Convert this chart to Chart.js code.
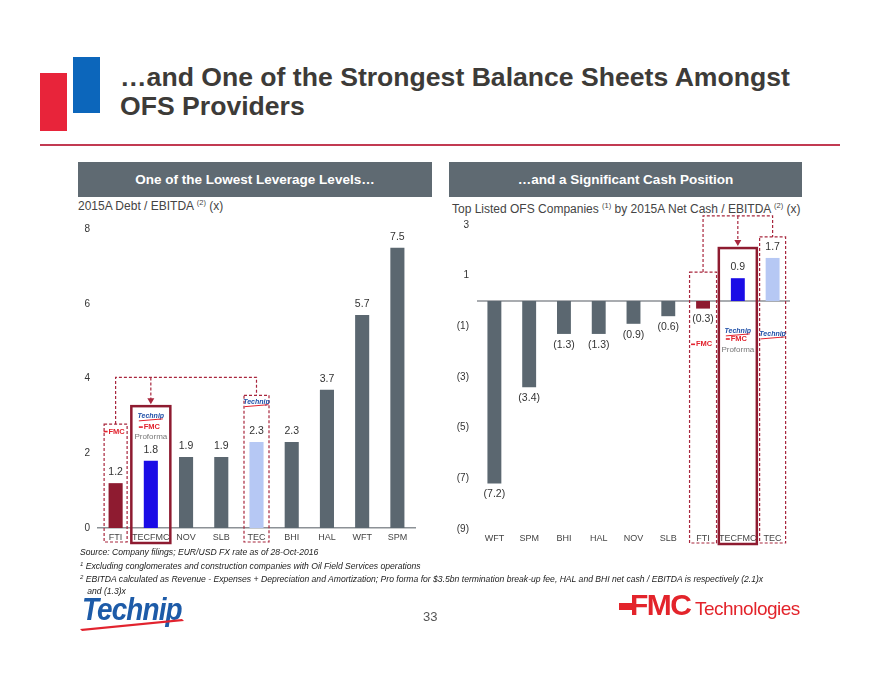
<!DOCTYPE html>
<html>
<head>
<meta charset="utf-8">
<script src="https://cdn.jsdelivr.net/npm/chart.js@4.4.0/dist/chart.umd.min.js"></script>
<style>
  html,body{margin:0;padding:0;background:#fff;}
  body{width:880px;height:680px;position:relative;overflow:hidden;font-family:"Liberation Sans",Arial,sans-serif;}
  .abs{position:absolute;}
  .title{left:120px;top:63px;font-size:26.6px;font-weight:bold;color:#3d3b38;line-height:29px;white-space:nowrap;}
  .hdr{background:#5f6a72;color:#fff;font-weight:bold;font-size:13.5px;text-align:center;line-height:35px;height:35px;top:162px;}
  .sub{font-size:12px;color:#444;white-space:nowrap;}
  .sub sup{font-size:7.5px;vertical-align:5px;line-height:0;}
  .foot{left:80px;font-size:8.6px;font-style:italic;color:#222;white-space:nowrap;line-height:12px;}
  .foot sup{font-size:6px;vertical-align:3px;line-height:0;}
  canvas{position:absolute;}
</style>
</head>
<body>
<div class="abs" style="left:40px;top:73px;width:27px;height:58px;background:#e8243a;"></div>
<div class="abs" style="left:73px;top:57px;width:27px;height:56px;background:#0c66bb;"></div>
<div class="abs title">…and One of the Strongest Balance Sheets Amongst<br>OFS Providers</div>
<div class="abs" style="left:40px;top:144px;width:800px;height:1.5px;background:#c23a52;"></div>

<div class="abs hdr" style="left:78px;width:354px;">One of the Lowest Leverage Levels…</div>
<div class="abs hdr" style="left:449px;width:353px;">…and a Significant Cash Position</div>
<div class="abs sub" style="left:78px;top:199px;">2015A Debt / EBITDA <sup>(2)</sup> (x)</div>
<div class="abs sub" style="left:452px;top:202px;">Top Listed OFS Companies <sup>(1)</sup> by 2015A Net Cash / EBITDA <sup>(2)</sup> (x)</div>

<canvas id="left" width="360" height="333" style="left:70px;top:215px;"></canvas>
<canvas id="right" width="360" height="344" style="left:445px;top:205px;"></canvas>

<div class="abs foot" style="top:546px;">Source: Company filings; EUR/USD FX rate as of 28-Oct-2016</div>
<div class="abs foot" style="top:560px;"><sup>1</sup> Excluding conglomerates and construction companies with Oil Field Services operations</div>
<div class="abs foot" style="top:573px;"><sup>2</sup> EBITDA calculated as Revenue - Expenses + Depreciation and Amortization; Pro forma for $3.5bn termination break-up fee, HAL and BHI net cash / EBITDA is respectively (2.1)x<br>&nbsp;&nbsp;&nbsp;and (1.3)x</div>

<div class="abs" style="left:82px;top:592px;font-size:31px;font-weight:bold;font-style:italic;color:#1d5ba8;letter-spacing:-1px;transform:scaleX(0.9);transform-origin:left top;">Technip</div>
<svg class="abs" style="left:78px;top:618px;" width="110" height="14"><polygon points="2,11 104,1 106,3 4,13" fill="#e2232e"/></svg>
<div class="abs" style="left:423px;top:609px;font-size:13px;color:#555;">33</div>
<div class="abs" style="left:619px;top:603px;width:14px;height:7px;background:#e3242b;"></div>
<div class="abs" style="left:630px;top:588px;white-space:nowrap;color:#e3242b;">
  <span style="font-size:30px;font-weight:900;letter-spacing:-1.5px;">FMC</span><span style="font-size:19px;font-weight:normal;letter-spacing:-0.5px;"> Technologies</span>
</div>

<script>
// ---------- DATA ----------
const leftCategories = ["FTI","TECFMC","NOV","SLB","TEC","BHI","HAL","WFT","SPM"];
const leftValues     = [1.2, 1.8, 1.9, 1.9, 2.3, 2.3, 3.7, 5.7, 7.5];
const leftTicks      = [0, 2, 4, 6, 8];

const rightCategories = ["WFT","SPM","BHI","HAL","NOV","SLB","FTI","TECFMC","TEC"];
const rightValues     = [-7.2, -3.4, -1.3, -1.3, -0.9, -0.6, -0.3, 0.9, 1.7];
const rightTicks      = [-9, -7, -5, -3, -1, 1, 3];

// ---------- STYLE ----------
const FONT = '"Liberation Sans", Arial, sans-serif';
const GRAY = '#5b6770', RED = '#8e1b30', BLUE = '#1a0ce6', LIGHT = '#b6c8f4';
const colorFor = c => c === 'FTI' ? RED : c === 'TECFMC' ? BLUE : c === 'TEC' ? LIGHT : GRAY;
const BOX = '#a8263d';

function fmtNeg(v){ return v < 0 ? '(' + Math.abs(v).toFixed(1) + ')' : v.toFixed(1); }
function fmtTick(v){ return v < 0 ? '(' + Math.abs(v) + ')' : String(v); }

function miniTechnip(ctx, x, y){
  ctx.save();
  ctx.font = 'bold italic 7px ' + FONT;
  ctx.fillStyle = '#2050a8'; ctx.textAlign = 'center'; ctx.textBaseline = 'middle';
  ctx.fillText('Technip', x, y);
  ctx.strokeStyle = '#e2232e'; ctx.lineWidth = 1;
  ctx.beginPath(); ctx.moveTo(x - 12, y + 5); ctx.lineTo(x + 12, y + 3); ctx.stroke();
  ctx.restore();
}
function miniFMC(ctx, x, y){
  ctx.save();
  ctx.font = 'bold 7.5px ' + FONT;
  ctx.fillStyle = '#e2232e'; ctx.textAlign = 'center'; ctx.textBaseline = 'middle';
  ctx.fillText('FMC', x + 1, y);
  ctx.fillRect(x - 12, y - 0.8, 4, 1.6);
  ctx.restore();
}
function proforma(ctx, x, y){
  ctx.save();
  ctx.font = '8px ' + FONT; ctx.fillStyle = '#777';
  ctx.textAlign = 'center'; ctx.textBaseline = 'middle';
  ctx.fillText('Proforma', x, y);
  ctx.restore();
}
function dashedRect(ctx, x1, y1, x2, y2, solid){
  ctx.save();
  ctx.strokeStyle = BOX;
  if (solid){ ctx.lineWidth = 2.5; ctx.setLineDash([]); ctx.strokeStyle = '#8e1b30'; }
  else { ctx.lineWidth = 1.2; ctx.setLineDash([3, 2]); }
  ctx.strokeRect(x1, y1, x2 - x1, y2 - y1);
  ctx.restore();
}
function dashedPath(ctx, pts){
  ctx.save();
  ctx.strokeStyle = BOX; ctx.lineWidth = 1.2; ctx.setLineDash([3, 2]);
  ctx.beginPath(); ctx.moveTo(pts[0][0], pts[0][1]);
  for (let i = 1; i < pts.length; i++) ctx.lineTo(pts[i][0], pts[i][1]);
  ctx.stroke(); ctx.restore();
}
function arrowDown(ctx, x, y1, y2){
  dashedPath(ctx, [[x, y1], [x, y2 - 5]]);
  ctx.save(); ctx.fillStyle = BOX;
  ctx.beginPath(); ctx.moveTo(x - 3.5, y2 - 6); ctx.lineTo(x + 3.5, y2 - 6); ctx.lineTo(x, y2); ctx.closePath(); ctx.fill();
  ctx.restore();
}

const valueLabels = {
  id: 'valueLabels',
  afterDatasetsDraw(chart){
    const ctx = chart.ctx;
    const meta = chart.getDatasetMeta(0);
    const vals = chart.data.datasets[0].data;
    ctx.save();
    ctx.font = '10.5px ' + FONT; ctx.fillStyle = '#333';
    ctx.textAlign = 'center'; ctx.textBaseline = 'middle';
    meta.data.forEach((bar, i) => {
      const v = vals[i];
      const y = v >= 0 ? bar.y - 11 : bar.y + 11;
      ctx.fillText(fmtNeg(v), bar.x, y);
    });
    ctx.restore();
  }
};

const zeroLine = {
  id: 'zeroLine',
  beforeDatasetsDraw(chart){
    const y0 = chart.scales.y.getPixelForValue(0);
    const a = chart.chartArea;
    const ctx = chart.ctx;
    ctx.save(); ctx.strokeStyle = '#8c9196'; ctx.lineWidth = 1.5;
    ctx.beginPath(); ctx.moveTo(a.left, y0); ctx.lineTo(a.right, y0); ctx.stroke();
    ctx.restore();
  }
};

const leftAnno = {
  id: 'leftAnno',
  afterDraw(chart){
    const ctx = chart.ctx, x = chart.scales.x, y = chart.scales.y, a = chart.chartArea;
    const bottom = a.bottom + 14;
    const cF = x.getPixelForValue(0), cP = x.getPixelForValue(1), cT = x.getPixelForValue(4);
    const yConn = y.getPixelForValue(4.03);
    dashedRect(ctx, cF - 11.5, y.getPixelForValue(2.78), cF + 11.5, bottom, false);
    dashedRect(ctx, cT - 12.5, y.getPixelForValue(3.55), cT + 12.5, bottom, false);
    dashedRect(ctx, cP - 19.5, y.getPixelForValue(3.26), cP + 19.5, bottom + 1, true);
    dashedPath(ctx, [[cF, y.getPixelForValue(2.78)], [cF, yConn], [cT, yConn], [cT, y.getPixelForValue(3.55)]]);
    arrowDown(ctx, cP, yConn, y.getPixelForValue(3.26) - 2);
    miniFMC(ctx, cF, y.getPixelForValue(2.58));
    miniTechnip(ctx, cT, y.getPixelForValue(3.38));
    miniTechnip(ctx, cP, y.getPixelForValue(3.0));
    miniFMC(ctx, cP, y.getPixelForValue(2.7));
    proforma(ctx, cP, y.getPixelForValue(2.44));
  }
};

const rightAnno = {
  id: 'rightAnno',
  afterDraw(chart){
    const ctx = chart.ctx, x = chart.scales.x, y = chart.scales.y, a = chart.chartArea;
    const bottom = a.bottom + 14;
    const cF = x.getPixelForValue(6), cP = x.getPixelForValue(7), cT = x.getPixelForValue(8);
    const yConn = y.getPixelForValue(3.36);
    dashedRect(ctx, cF - 13.5, y.getPixelForValue(1.14), cF + 13.5, bottom, false);
    dashedRect(ctx, cT - 13, y.getPixelForValue(2.53), cT + 13, bottom, false);
    dashedRect(ctx, cP - 19, y.getPixelForValue(2.09), cP + 19, bottom + 1, true);
    dashedPath(ctx, [[cF, y.getPixelForValue(1.14)], [cF, yConn], [cT, yConn], [cT, y.getPixelForValue(2.53)]]);
    arrowDown(ctx, cP, yConn, y.getPixelForValue(2.09) - 2);
    miniFMC(ctx, cF, y.getPixelForValue(-1.71));
    miniTechnip(ctx, cT, y.getPixelForValue(-1.3));
    miniTechnip(ctx, cP, y.getPixelForValue(-1.18));
    miniFMC(ctx, cP, y.getPixelForValue(-1.5));
    proforma(ctx, cP, y.getPixelForValue(-1.92));
  }
};

function baseOptions(ticksArr, min, max, yWidth, xBorder){
  return {
    responsive: false, animation: false,
    plugins: { legend: { display: false }, tooltip: { enabled: false } },
    scales: {
      x: {
        grid: { display: false, drawTicks: false },
        border: { display: xBorder, color: '#8c9196', width: 1.5 },
        ticks: { font: { size: 9, family: FONT }, color: '#444', padding: 4, maxRotation: 0, autoSkip: false },
        afterFit(s){ s.height = 20; }
      },
      y: {
        min, max,
        grid: { display: false, drawTicks: false },
        border: { display: false },
        ticks: { font: { size: 10, family: FONT }, color: '#333', padding: 8, callback: v => fmtTick(v) },
        afterBuildTicks(s){ s.ticks = ticksArr.map(v => ({ value: v })); },
        afterFit(s){ s.width = yWidth; }
      }
    }
  };
}

const lOpts = baseOptions(leftTicks, 0, 8, 28, true);
lOpts.layout = { padding: { top: 10, right: 15, left: 0, bottom: 0 } };
new Chart(document.getElementById('left'), {
  type: 'bar',
  data: { labels: leftCategories, datasets: [{ data: leftValues, backgroundColor: leftCategories.map(colorFor), barPercentage: 0.5, categoryPercentage: 0.8 }] },
  options: lOpts,
  plugins: [valueLabels, leftAnno]
});

const rOpts = baseOptions(rightTicks, -9, 3, 32, false);
rOpts.layout = { padding: { top: 20, right: 15, left: 0, bottom: 0 } };
new Chart(document.getElementById('right'), {
  type: 'bar',
  data: { labels: rightCategories, datasets: [{ data: rightValues, backgroundColor: rightCategories.map(colorFor), barPercentage: 0.5, categoryPercentage: 0.8 }] },
  options: rOpts,
  plugins: [zeroLine, valueLabels, rightAnno]
});
</script>
</body>
</html>
